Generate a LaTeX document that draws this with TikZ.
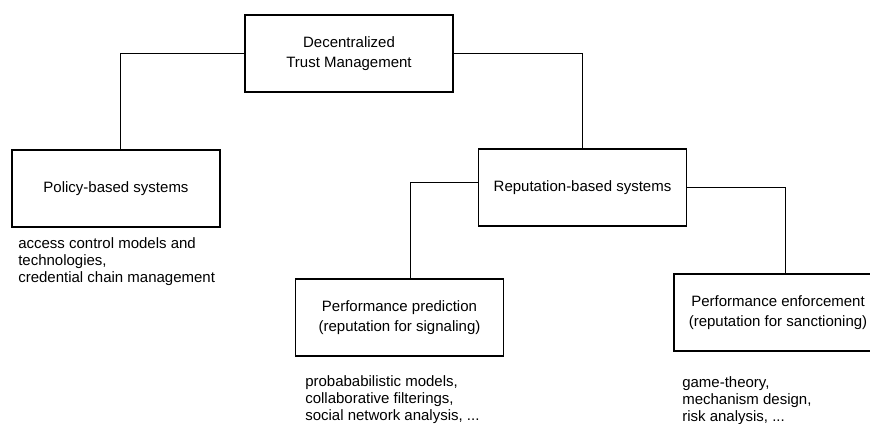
\documentclass[tikz,border=0pt]{standalone}
\usepackage{fontspec}
\setmainfont{Liberation Sans}
\begin{document}
\begin{tikzpicture}[x=0.75pt,y=-0.75pt,
  box/.style={draw, line width=1pt, minimum width=156pt, minimum height=57.75pt,
    align=center, inner sep=0pt, font=\fontsize{11.25}{15}\selectfont},
  link/.style={line width=0.75pt},
  note/.style={anchor=north west, align=left, inner sep=0pt,
    font=\fontsize{11.25}{13}\selectfont}]
\useasboundingbox (0,0) rectangle (870,424);
\clip (0,0) rectangle (870,424);

% category boxes
\node[box] (top)  at (349,53.5)   {Decentralized\\Trust Management};
\node[box] (pol)  at (116,188.5)  {Policy-based systems};
\node[box] (rep)  at (582.5,187.5){Reputation-based systems};
\node[box] (pred) at (399.5,317.5){Performance prediction\\(reputation for signaling)};
\node[box] (enf)  at (778,312.5)  {Performance enforcement\\(reputation for sanctioning)};

% tree connectors
\draw[link] (top.west) -| ([xshift=3pt]pol.north);
\draw[link] (top.east) -| (rep.north);
\draw[link] ([yshift=3.4pt]rep.west) -| ([xshift=7.9pt]pred.north);
\draw[link] (rep.east) -| ([xshift=5.25pt]enf.north);

% examples under each leaf
\node[note] (polnote)  at (18,237)  {access control models and\\technologies,\\credential chain management};
\node[note] (prednote) at (305,375) {probababilistic models,\\collaborative filterings,\\social network analysis, ...};
\node[note] (enfnote)  at (682,376) {game-theory,\\mechanism design,\\risk analysis, ...};
\end{tikzpicture}
\end{document}
